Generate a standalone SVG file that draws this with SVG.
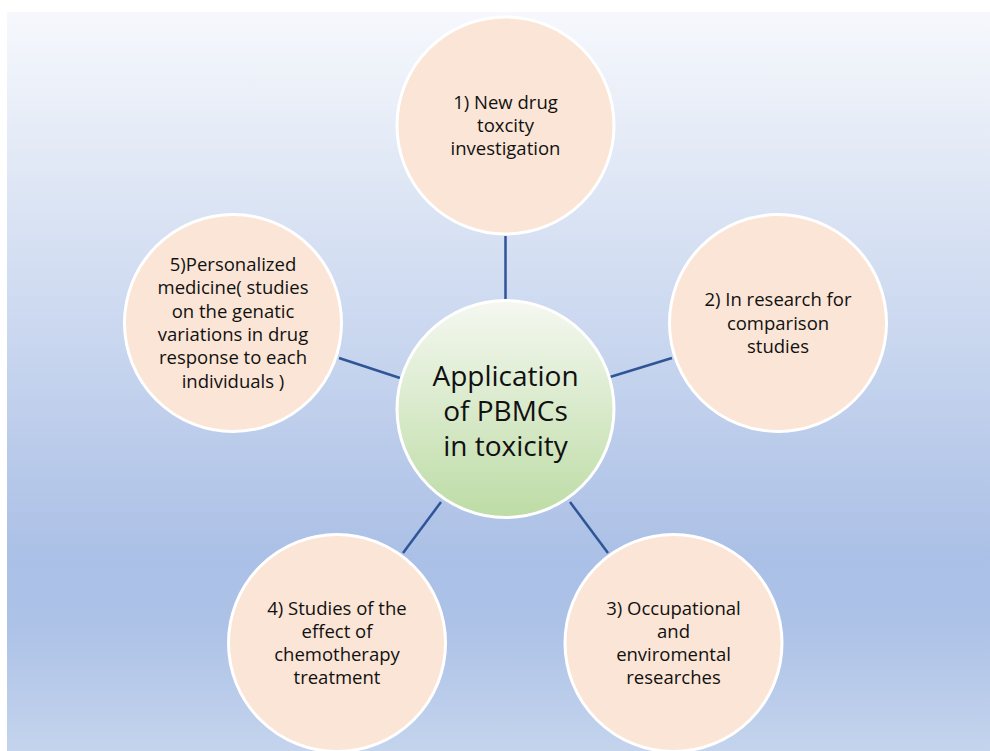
<svg xmlns="http://www.w3.org/2000/svg" width="990" height="751" viewBox="0 0 990 751">
<defs>
<linearGradient id="bg" x1="0" y1="0" x2="0" y2="1">
<stop offset="0" stop-color="#f6f8fc"/>
<stop offset="0.74" stop-color="#abc0e6"/>
<stop offset="0.83" stop-color="#adc2e7"/>
<stop offset="1" stop-color="#c4d4ed"/>
</linearGradient>
<linearGradient id="cg" x1="0" y1="0" x2="0" y2="1">
<stop offset="0" stop-color="#f5f8f1"/>
<stop offset="1" stop-color="#bddca5"/>
</linearGradient>
<style>
.node{fill:#fbe5d6;stroke:#ffffff;stroke-width:3}
.hub{fill:url(#cg);stroke:#ffffff;stroke-width:3}
.t{font-family:"Open Sans","Noto Sans",sans-serif;font-size:18.5px;fill:#111;text-anchor:middle}
.ht{font-family:"Open Sans","Noto Sans",sans-serif;font-size:28px;fill:#111;text-anchor:middle}
.c{stroke:#2f5597;stroke-width:2.5;fill:none}
</style>
</defs>
<rect x="0" y="0" width="990" height="751" fill="#ffffff"/>
<rect x="7" y="12" width="983" height="739" fill="url(#bg)"/>
<g id="connectors">
<line class="c" x1="505.5" y1="236" x2="505.5" y2="302"/>
<line class="c" x1="610" y1="377" x2="672" y2="358"/>
<line class="c" x1="570" y1="502" x2="608" y2="553"/>
<line class="c" x1="441" y1="502" x2="403" y2="553"/>
<line class="c" x1="400" y1="378" x2="339" y2="358"/>
</g>
<g id="hub">
<circle class="hub" cx="505.5" cy="409" r="108.5"/>
<text class="ht" x="505.5" y="386">Application</text>
<text class="ht" x="505.5" y="421">of PBMCs</text>
<text class="ht" x="505.5" y="456">in toxicity</text>
</g>
<g id="node1">
<circle class="node" cx="505.5" cy="125.5" r="108.5"/>
<text class="t" x="505.5" y="108.5">1) New drug</text>
<text class="t" x="505.5" y="131.8">toxcity</text>
<text class="t" x="505.5" y="155.1">investigation</text>
</g>
<g id="node2">
<circle class="node" cx="778" cy="323" r="108.5"/>
<text class="t" x="778" y="306.2">2) In research for</text>
<text class="t" x="778" y="329.5">comparison</text>
<text class="t" x="778" y="352.8">studies</text>
</g>
<g id="node3">
<circle class="node" cx="673.5" cy="643" r="108.5"/>
<text class="t" x="673.5" y="614.5">3) Occupational</text>
<text class="t" x="673.5" y="637.8">and</text>
<text class="t" x="673.5" y="661.1">enviromental</text>
<text class="t" x="673.5" y="684.4">researches</text>
</g>
<g id="node4">
<circle class="node" cx="337" cy="643" r="108.5"/>
<text class="t" x="337" y="614.5">4) Studies of the</text>
<text class="t" x="337" y="637.8">effect of</text>
<text class="t" x="337" y="661.1">chemotherapy</text>
<text class="t" x="337" y="684.4">treatment</text>
</g>
<g id="node5">
<circle class="node" cx="233" cy="323" r="108.5"/>
<text class="t" x="233" y="271">5)Personalized</text>
<text class="t" x="233" y="294.3">medicine( studies</text>
<text class="t" x="233" y="317.6">on the genatic</text>
<text class="t" x="233" y="340.9">variations in drug</text>
<text class="t" x="233" y="364.2">response to each</text>
<text class="t" x="233" y="387.5">individuals )</text>
</g>
</svg>
